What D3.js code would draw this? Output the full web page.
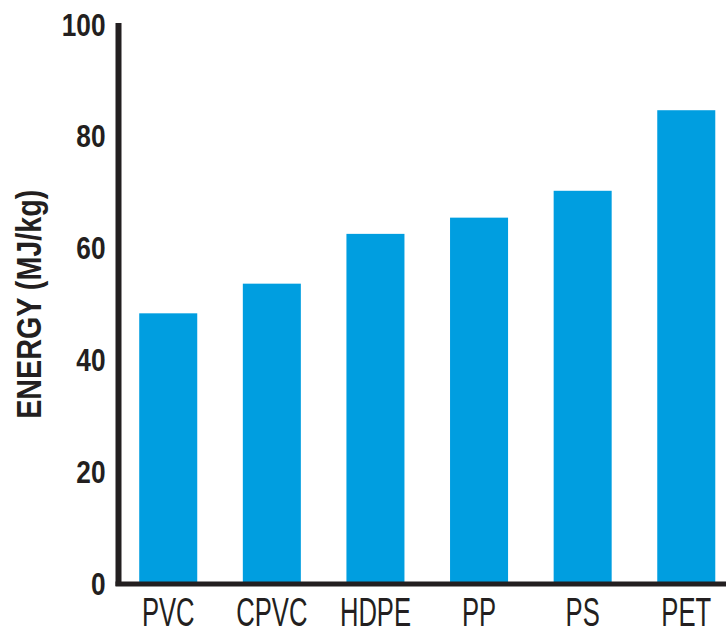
<!DOCTYPE html>
<html>
<head>
<meta charset="utf-8">
<script src="https://cdn.jsdelivr.net/npm/d3@7"></script>
<style>
  body { margin: 0; background: #fff; }
  svg text { font-family: "Liberation Sans", Arial, sans-serif; fill: #231f20; }
</style>
</head>
<body>
<div id="container"></div>
<script>
const WIDTH = 726;
const HEIGHT = 628;

// data
const materials = ["PVC", "CPVC", "HDPE", "PP", "PS", "PET"];
const energy = [48.2, 53.5, 62.4, 65.3, 70.1, 84.5];
const yTicks = [0, 20, 40, 60, 80, 100];

const AXIS_X = 118.5;
const Y_ZERO = 583;
const Y_TOP = 23.5;
const NARROW = 0.82; // no narrow face installed, squeeze text instead
const X_NARROW = 0.64;

var svg = d3.select("#container")
    .append("svg")
    .attr("width", WIDTH)
    .attr("height", HEIGHT);

var xScale = d3.scaleBand()
    .domain(materials)
    .range([AXIS_X, 736])
    .paddingInner(0.44)
    .paddingOuter(0.2);

var yScale = d3.scaleLinear().domain([0, 100]).range([Y_ZERO, Y_TOP]);

// bars
svg.selectAll("rect.bar").data(materials)
    .enter()
    .append("rect")
    .attr("class", "bar")
    .attr("x", function (d) { return xScale(d); })
    .attr("width", xScale.bandwidth())
    .attr("y", function (d, i) { return yScale(energy[i]); })
    .attr("height", function (d, i) { return Y_ZERO - yScale(energy[i]); })
    .attr("fill", "#009ee0");

// y axis
var yAxis = d3.axisLeft(yScale).tickValues(yTicks).tickSize(0);
var gy = svg.append("g")
    .attr("transform", "translate(" + AXIS_X + ",0)")
    .call(yAxis);
gy.select(".domain").remove();
gy.selectAll("text")
    .attr("x", 0)
    .attr("transform", "translate(-13,0) scale(" + NARROW + ",1)")
    .attr("font-size", 32)
    .attr("font-weight", "bold")
    .attr("dy", "0.36em");

svg.append("line")
    .attr("x1", AXIS_X).attr("x2", AXIS_X)
    .attr("y1", yScale(100) - 0.5).attr("y2", Y_ZERO + 3)
    .attr("stroke", "#231f20")
    .attr("stroke-width", 6);

// x axis
var xAxis = d3.axisBottom(xScale).tickSize(0);
var gx = svg.append("g")
    .attr("transform", "translate(0," + Y_ZERO + ")")
    .call(xAxis);
gx.select(".domain").remove();
gx.selectAll("text")
    .attr("y", 0)
    .attr("transform", "translate(0,15) scale(" + X_NARROW + ",1)")
    .attr("font-size", 40)
    .attr("dy", "0.71em");

svg.append("line")
    .attr("x1", AXIS_X - 3).attr("x2", WIDTH)
    .attr("y1", Y_ZERO + 1).attr("y2", Y_ZERO + 1)
    .attr("stroke", "#231f20")
    .attr("stroke-width", 5);

// axis title
svg.append("text")
    .attr("transform", "translate(41," + ((Y_ZERO + Y_TOP) / 2 + 1) + ") rotate(-90) scale(" + NARROW + ",1)")
    .attr("text-anchor", "middle")
    .attr("font-size", 35)
    .attr("font-weight", "bold")
    .text("ENERGY (MJ/kg)");
</script>
</body>
</html>
